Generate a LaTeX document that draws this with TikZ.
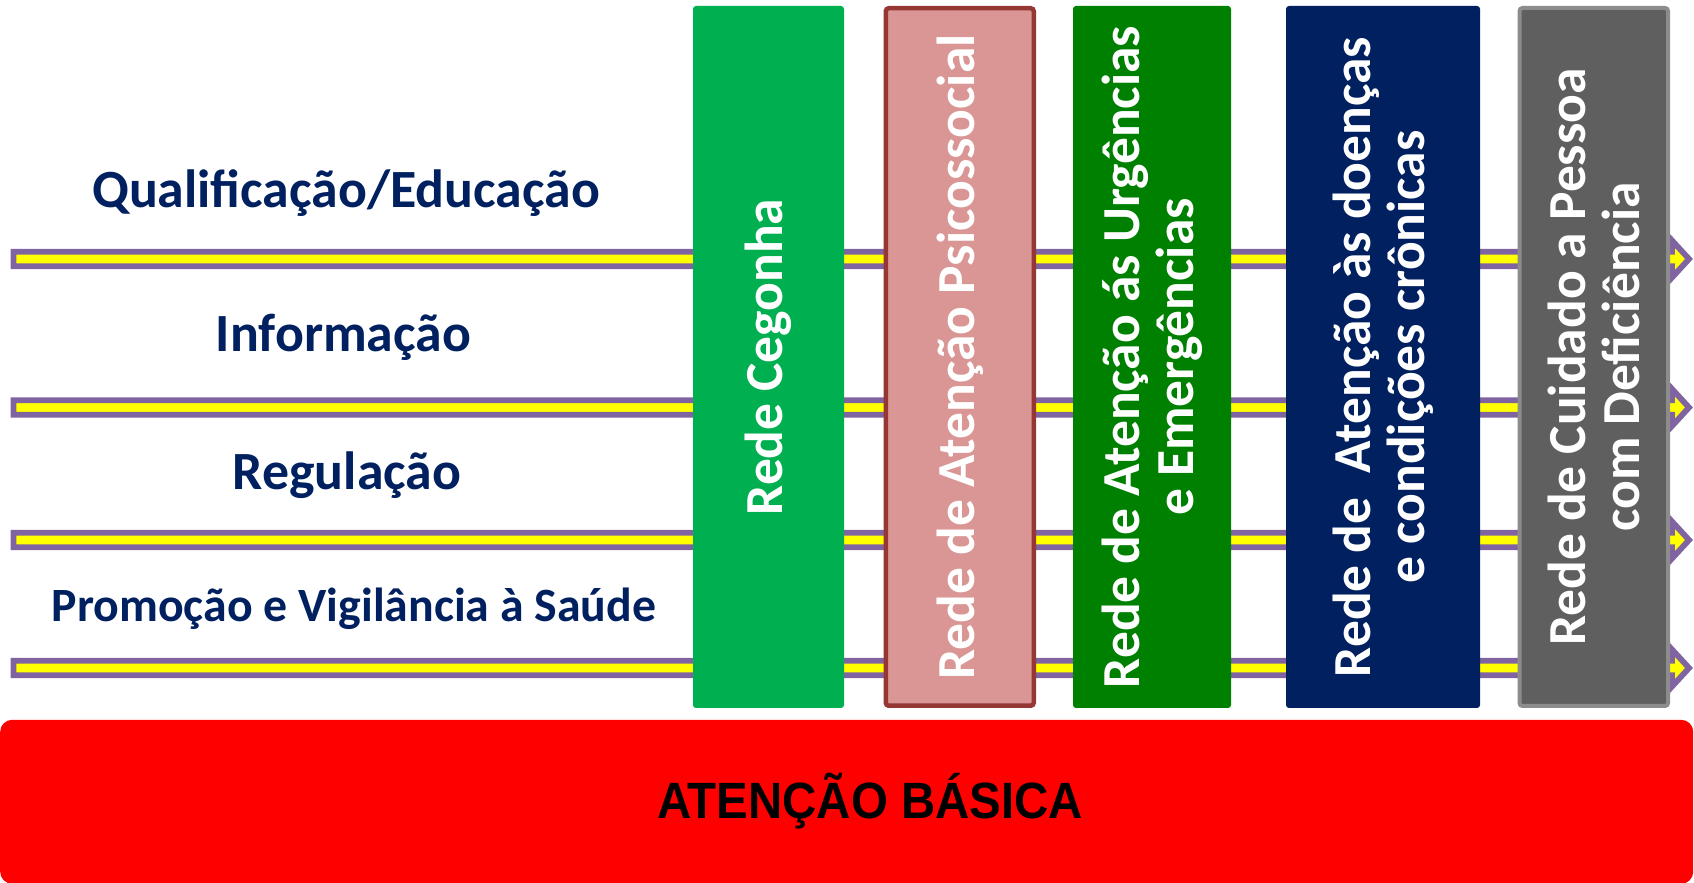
\documentclass[tikz,border=0pt]{standalone}
\usepackage{fontspec}
\setmainfont{Carlito}
\newfontfamily\arialfont{Liberation Sans}
\definecolor{navytxt}{HTML}{002060}
\definecolor{arrowpurple}{HTML}{8064A2}
\definecolor{arrowyellow}{HTML}{FFFF00}
\definecolor{colgreen}{HTML}{00B050}
\definecolor{colpink}{HTML}{D99694}
\definecolor{colpinkb}{HTML}{953735}
\definecolor{coldkgreen}{HTML}{008000}
\definecolor{colnavy}{HTML}{002060}
\definecolor{colgray}{HTML}{5F5F5F}
\definecolor{colgrayb}{HTML}{8C8C8C}
\definecolor{basered}{HTML}{FF0000}
\begin{document}
\begin{tikzpicture}[x=1pt,y=1pt,
  lefttxt/.style={anchor=base,text=navytxt,inner sep=0pt,font=\bfseries\fontsize{53.8}{56}\selectfont},
  colbox/.style={rotate=90,rounded corners=3pt,inner sep=0pt,text=white,align=center,
     font=\bfseries\fontsize{53.5}{54}\selectfont},
  bandarrow/.style={draw=arrowpurple,fill=arrowyellow,line width=5.8pt,line join=miter}]
\useasboundingbox (0,0) rectangle (1694,883);
% horizontal arrows
\foreach \yy in {624,475.5,343,215}{
  \draw[bandarrow] (13.5,\yy-7.3) -- (1672,\yy-7.3) -- (1672,\yy-18.5) -- (1689,\yy)
     -- (1672,\yy+18.5) -- (1672,\yy+7.3) -- (13.5,\yy+7.3) -- cycle;
}
% left labels
\node[lefttxt] (qual) at (346,675) {Qualificação/Educação};
\node[lefttxt] (info) at (343.5,531) {Informação};
\node[lefttxt] (regu) at (347,393) {Regulação};
\node[lefttxt,font=\bfseries\fontsize{47.8}{54}\selectfont] (prom) at (354,261) {Promoção e Vigilância à Saúde};
% columns
\node[colbox,fill=colgreen,minimum width=702,minimum height=151] (c1) at (768.5,526) {Rede Cegonha};
\node[colbox,fill=colpink,draw=colpinkb,line width=4.5pt,minimum width=697.5,minimum height=148] (c2) at (959.75,526) {Rede de Atenção Psicossocial};
\node[colbox,fill=coldkgreen,minimum width=702,minimum height=158] (c3) at (1152,526) {Rede de Atenção ás Urgências\\e Emergências};
\node[colbox,fill=colnavy,minimum width=702,minimum height=194] (c4) at (1383,526) {Rede de\ \ Atenção às doenças\\e condições crônicas};
\node[colbox,fill=colgray,draw=colgrayb,line width=4pt,minimum width=698,minimum height=148.5] (c5) at (1593.75,526) {Rede de Cuidado a Pessoa\\com Deficiência};
% base
\node[fill=basered,rounded corners=12pt,minimum width=1693,minimum height=164,inner sep=0pt,anchor=south west] (base) at (0,-1) {};
\node[anchor=base,inner sep=0pt,font=\arialfont\bfseries\fontsize{51}{54}\selectfont] (basetxt) at (870,64) {\scalebox{0.93}[1]{ATENÇÃO BÁSICA}};
\end{tikzpicture}
\end{document}
